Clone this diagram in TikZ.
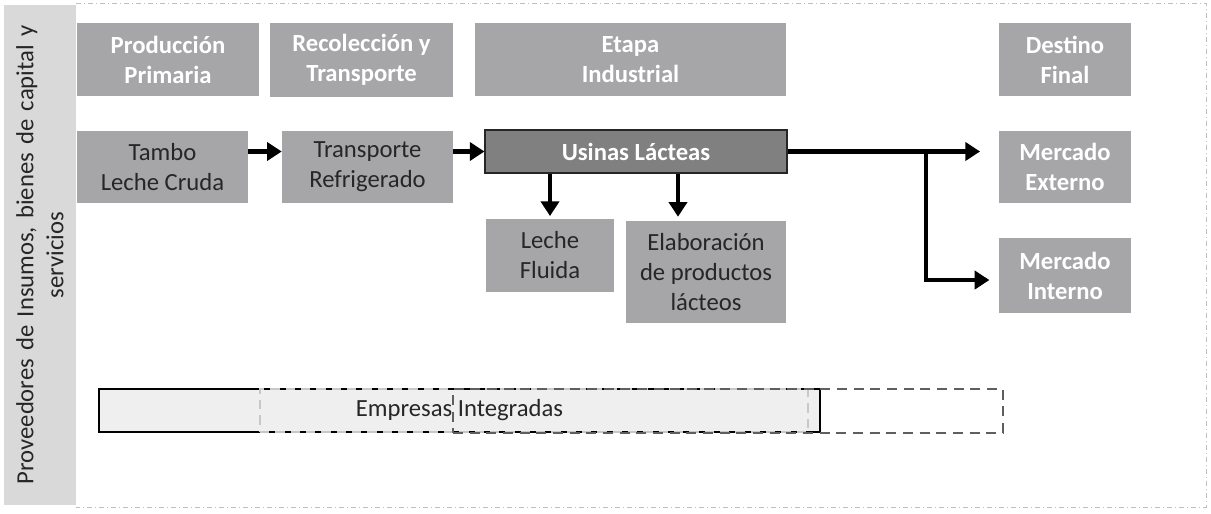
\documentclass[tikz,border=0pt]{standalone}
\usepackage{fontspec}
\setmainfont{Carlito}
\usetikzlibrary{arrows.meta}

\definecolor{boxgrey}{HTML}{A6A6A8}
\definecolor{usinagrey}{HTML}{808080}
\definecolor{sidegrey}{HTML}{D9D9D9}
\definecolor{barfill}{HTML}{EFEFEF}
\definecolor{textdark}{HTML}{262626}
\definecolor{framegrey}{HTML}{BFBFBF}
\definecolor{lightdash}{HTML}{C8C8C8}
\definecolor{darkdash}{HTML}{5F5F5F}

\newcommand{\diagfont}{\fontsize{18.5}{22.5}\selectfont}

\tikzset{
  head/.style = {fill = boxgrey, text = white, font = \diagfont\bfseries, align = center},
  stage/.style = {fill = boxgrey, text = textdark, align = center},
  flow/.style = {draw = black, line width = 3.5pt, -{Triangle[length = 11pt, width = 13.5pt]}},
}

\begin{document}
\begin{tikzpicture}[x = 0.75pt, y = -0.75pt, font = \diagfont]

\useasboundingbox (0, 0) rectangle (1211, 514);

\draw [framegrey, line width = 0.75pt, dash pattern = on 4pt off 2pt on 1pt off 2pt]
  (76, 3) -- (1206, 3) -- (1206, 507) -- (76, 507);

\node [fill = sidegrey, text = textdark, rotate = 90, minimum width = 375pt, minimum height = 54pt, text width = 365pt, align = center] (side) at (40, 255) {Proveedores de Insumos, bienes de capital y\\ servicios};

\node [head, minimum width = 136.5pt, minimum height = 54.75pt] (head0) at (168, 59.5) {Producci\'on\\ Primaria};
\node [head, minimum width = 137.25pt, minimum height = 55.5pt] (head1) at (361.5, 60) {Recolecci\'on y\\ Transporte};
\node [head, minimum width = 233.25pt, minimum height = 54.75pt] (head2) at (630.5, 59.5) {Etapa\\ Industrial};
\node [head, minimum width = 99pt, minimum height = 54.75pt] (head3) at (1065, 59.5) {Destino\\ Final};

\node [stage, minimum width = 128.25pt, minimum height = 54pt] (tambo) at (162.5, 167) {Tambo\\ Leche Cruda};
\node [stage, minimum width = 128.25pt, minimum height = 54pt] (transp) at (367.5, 167) {Transporte\\ Refrigerado};
\node [draw = textdark, line width = 0.8pt, fill = usinagrey, text = white, font = \diagfont\bfseries, minimum width = 226.5pt, minimum height = 32.25pt] (usinas) at (636, 151.5) {Usinas L\'acteas};
\node [stage, minimum width = 96pt, minimum height = 54.75pt] (leche) at (550, 255.5) {Leche\\ Fluida};
\node [stage, minimum width = 120pt, minimum height = 76.5pt] (elab) at (706, 272) {Elaboraci\'on\\ de productos\\ l\'acteos};
\node [head, minimum width = 99pt, minimum height = 54pt] (mext) at (1065, 167) {Mercado\\ Externo};
\node [head, minimum width = 99pt, minimum height = 56.25pt] (mint) at (1065, 275.5) {Mercado\\ Interno};

\path [flow] (tambo.east |- usinas.west) -- (transp.west |- usinas.west);
\path [flow] (transp.east |- usinas.west) -- (usinas.west);
\path [flow, shorten > = 2pt] (usinas.south -| leche.north) -- (leche.north);
\path [flow, shorten > = 3pt] ([xshift = -21pt] usinas.south -| elab.north) -- ([xshift = -21pt] elab.north);
\path [flow, shorten > = 14pt] (usinas.east) -- (usinas.east -| mext.west);
\coordinate (split) at (926, 151.5);
\path [flow, shorten > = 7pt] (split) |- ([yshift = -3.4pt] mint.west);

\node [draw = black, line width = 1pt, fill = barfill, text = textdark, minimum width = 540.75pt, minimum height = 32.25pt] (firms) at (459.5, 410.5) {Empresas Integradas};
\node [draw = lightdash, line width = 1.2pt, dash pattern = on 7pt off 4.5pt, minimum width = 411pt, minimum height = 32.25pt] (span0) at (534, 410.5) {};
\node [draw = darkdash, line width = 1.5pt, dash pattern = on 7.5pt off 5pt, minimum width = 412.5pt, minimum height = 33pt] (span1) at (728, 411) {};

\end{tikzpicture}
\end{document}
